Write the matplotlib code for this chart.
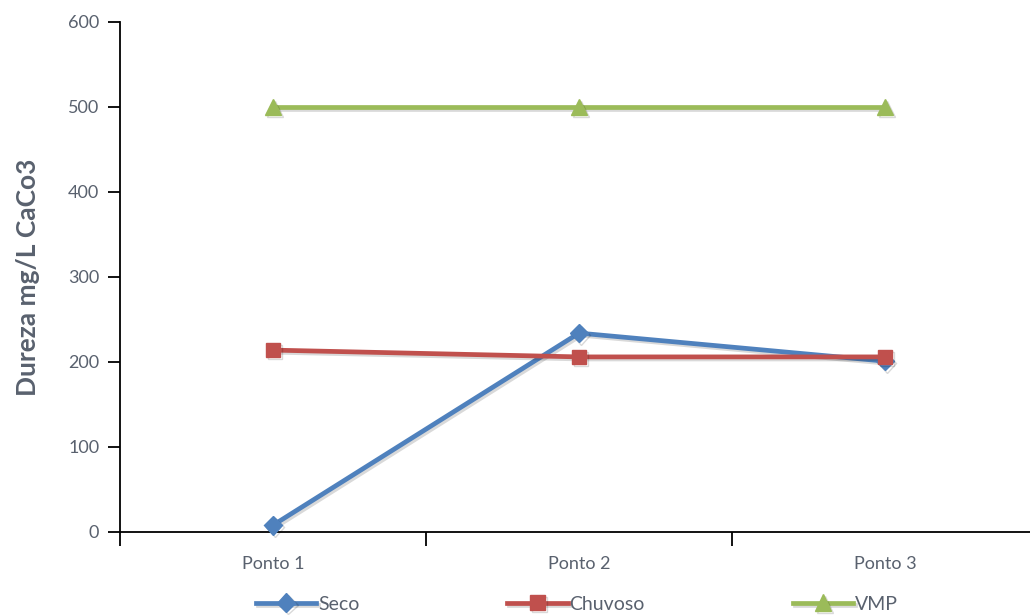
import numpy as np
import matplotlib
matplotlib.use("Agg")
import matplotlib.pyplot as plt
import matplotlib.patheffects as pe

# Hardness per sampling point
pontos = ["Ponto 1", "Ponto 2", "Ponto 3"]
seco = [8, 234, 201]
chuvoso = [214, 206, 206]
vmp = [500, 500, 500]

text_color = "#59616e"
plt.rcParams["font.family"] = ["Lato", "DejaVu Sans"]

fig = plt.figure(figsize=(10.3, 6.15), dpi=100)
ax = fig.add_axes([120 / 1030, 1 - 532 / 615, 918 / 1030, 510 / 615])

x = np.arange(len(pontos))
shadow = [pe.SimpleLineShadow(offset=(1.5, -1.5), alpha=0.15), pe.Normal()]

series = [
    ("Seco", seco, "#4f81bd", "D", 9.5),
    ("Chuvoso", chuvoso, "#c0504d", "s", 10.5),
    ("VMP", vmp, "#9bbb59", "^", 12),
]
for name, vals, color, marker, ms in series:
    ax.plot(x, vals, color=color, lw=3.4, marker=marker, markersize=ms,
            label=name, path_effects=shadow, clip_on=False, zorder=3)

ax.set_xlim(-0.5, 2.5)
ax.set_ylim(0, 600)
ax.set_yticks(range(0, 601, 100))
ax.set_xticks(x)
ax.set_xticklabels(pontos)
ax.set_xticks([-0.5, 0.5, 1.5, 2.5], minor=True)

for side in ["top", "right"]:
    ax.spines[side].set_visible(False)
ax.spines["left"].set_linewidth(1.3)
ax.spines["bottom"].set_linewidth(1.3)

ax.tick_params(axis="y", direction="out", length=9, width=1.3,
               labelsize=13, labelcolor=text_color, pad=6)
ax.tick_params(axis="x", which="major", length=0, labelsize=13,
               labelcolor=text_color, pad=17)
ax.tick_params(axis="x", which="minor", direction="out", length=10, width=1.3)

ax.set_ylabel("Dureza mg/L CaCo3", fontsize=19, fontweight="bold",
              color=text_color, labelpad=20)

fig.legend(loc="center left", bbox_to_anchor=(256 / 1030, 1 - 604 / 615),
           ncol=3, frameon=False, fontsize=14, handlelength=3.1,
           handletextpad=0.1, columnspacing=7.6, labelcolor=text_color,
           borderaxespad=0, borderpad=0)

fig.savefig("out.png", dpi=100)
